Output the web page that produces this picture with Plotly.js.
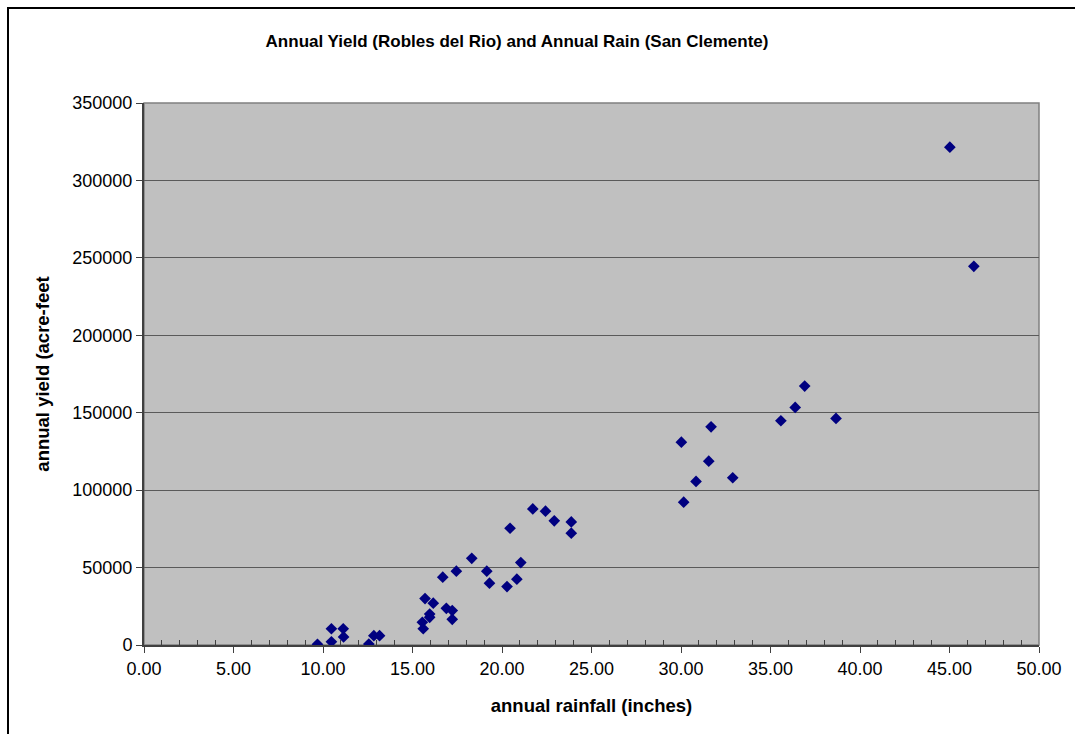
<!DOCTYPE html>
<html>
<head>
<meta charset="utf-8">
<script src="https://cdn.plot.ly/plotly-3.0.1.min.js"></script>
<style>
html,body{margin:0;padding:0;background:#fff;overflow:hidden;}
#wrap{position:relative;width:1075px;height:734px;overflow:hidden;}
#chart{position:absolute;left:0;top:0;width:1075px;height:734px;}
#frame{position:absolute;left:7px;top:7px;width:1075px;height:740px;border:2px solid #000;box-sizing:border-box;pointer-events:none;}
</style>
</head>
<body>
<div id="wrap"><div id="chart"></div><div id="frame"></div></div>
<script>
const rainfall = [9.69, 10.47, 10.47, 11.13, 11.15, 12.56, 12.84, 13.16, 15.60, 15.55,
  15.70, 15.96, 15.96, 16.16, 16.69, 16.89, 17.22, 17.22, 17.45, 18.31,
  19.15, 19.30, 20.28, 20.83, 21.05, 20.45, 21.72, 22.43, 22.92, 23.87,
  23.87, 30.02, 30.15, 30.84, 31.55, 31.68, 32.89, 35.58, 36.38, 36.91,
  38.66, 45.02, 46.36];
const yieldAF = [500, 2100, 10500, 10500, 5200, 600, 6000, 6000, 10500, 14700,
  30000, 17900, 20000, 27000, 43800, 23700, 22200, 16600, 47700, 56000,
  47700, 39900, 37700, 42500, 53200, 75400, 87900, 86400, 80200, 79500,
  72200, 131000, 92200, 105600, 118700, 140900, 108000, 144800, 153400, 167200,
  146300, 321500, 244500];
const xTickVals = [0, 5, 10, 15, 20, 25, 30, 35, 40, 45, 50];
const xTickText = ["0.00", "5.00", "10.00", "15.00", "20.00", "25.00", "30.00", "35.00", "40.00", "45.00", "50.00"];
const yTickVals = [0, 50000, 100000, 150000, 200000, 250000, 300000, 350000];
const yTickText = ["0", "50000", "100000", "150000", "200000", "250000", "300000", "350000"];

const font = "Liberation Sans, Arial, sans-serif";

const trace = {
  x: rainfall, y: yieldAF, type: 'scatter', mode: 'markers',
  marker: {symbol: 'diamond', color: '#000080', size: 9},
  hoverinfo: 'x+y'
};

const layout = {
  width: 1075, height: 734,
  margin: {l: 144, r: 36, t: 103, b: 89, pad: 0},
  paper_bgcolor: '#ffffff',
  plot_bgcolor: '#c0c0c0',
  showlegend: false,
  font: {family: font, size: 18, color: '#000'},
  title: {
    text: 'Annual Yield (Robles del Rio) and Annual Rain (San Clemente)',
    font: {family: font, size: 17, color: '#000', weight: 'bold'},
    x: 517/1075, xref: 'container', xanchor: 'center',
    y: 1 - 41/734, yref: 'container', yanchor: 'middle'
  },
  xaxis: {
    range: [0, 50], autorange: false,
    tickvals: xTickVals, ticktext: xTickText, tickmode: 'array',
    ticks: 'outside', ticklen: 6, tickwidth: 1, tickcolor: '#404040',
    minor: {tickvals: [1,2,3,4,6,7,8,9,11,12,13,14,16,17,18,19,21,22,23,24,26,27,28,29,31,32,33,34,36,37,38,39,41,42,43,44,46,47,48,49], ticks: 'inside', ticklen: 5, tickwidth: 1, tickcolor: '#404040', showgrid: false},
    showgrid: false, zeroline: false,
    showline: true, linecolor: '#404040', linewidth: 2,
    tickfont: {family: font, size: 18, color: '#000'},
    title: {text: 'annual rainfall (inches)', font: {family: font, size: 18.5, color: '#000', weight: 'bold'}, standoff: 21}
  },
  yaxis: {
    range: [0, 350000], autorange: false,
    tickvals: yTickVals, ticktext: yTickText, tickmode: 'array',
    ticks: 'outside', ticklen: 6, tickwidth: 1, tickcolor: '#404040',
    showgrid: true, gridcolor: '#5a5a5a', gridwidth: 1,
    zeroline: false,
    showline: true, linecolor: '#404040', linewidth: 2,
    tickfont: {family: font, size: 18, color: '#000'},
    title: {text: 'annual yield (acre-feet', font: {family: font, size: 18.5, color: '#000', weight: 'bold'}, standoff: 18}
  },
  shapes: [{
    type: 'rect', xref: 'paper', yref: 'paper', x0: 0, x1: 1, y0: 0, y1: 1,
    line: {color: '#808080', width: 1.5}, fillcolor: 'rgba(0,0,0,0)', layer: 'below'
  }]
};

Plotly.newPlot('chart', [trace], layout, {displayModeBar: false, staticPlot: true});
</script>
</body>
</html>
